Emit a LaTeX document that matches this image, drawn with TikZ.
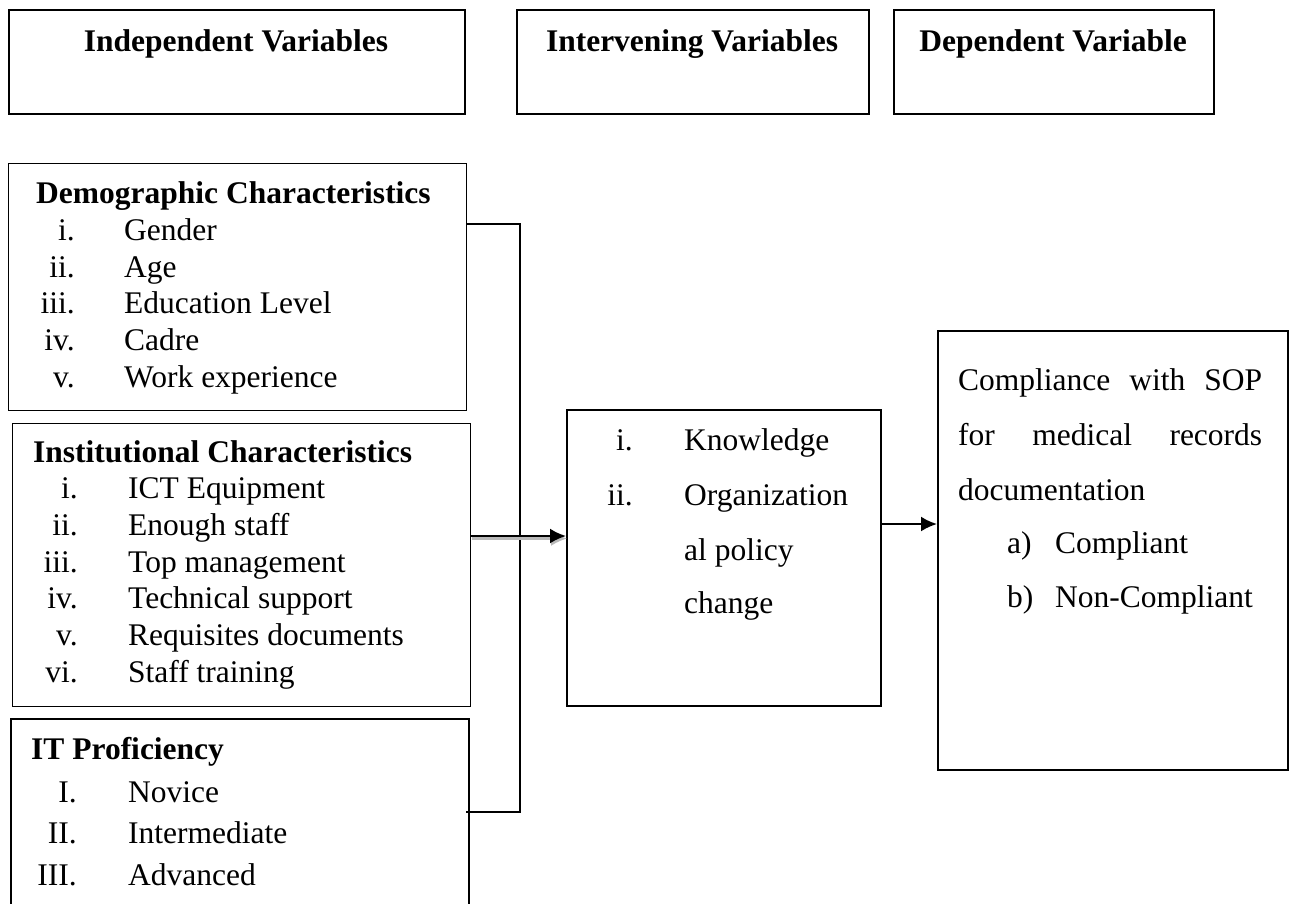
\documentclass[tikz,border=0pt]{standalone}
\usepackage{fontspec}
\setmainfont{Liberation Serif}
\usetikzlibrary{arrows.meta}
\begin{document}
\begin{tikzpicture}[x=1pt,y=-1pt,
  box/.style={draw=black,line width=#1,inner sep=0pt,anchor=north west},
  box/.default=1.3pt,
  hdr/.style={inner sep=0pt,anchor=base,font=\bfseries\fontsize{31.5}{37}\selectfont},
  ttl/.style={inner sep=0pt,anchor=base west,font=\bfseries\fontsize{31.5}{37}\selectfont},
  txt/.style={inner sep=0pt,anchor=base west,font=\fontsize{31.5}{37}\selectfont},
  num/.style={inner sep=0pt,anchor=base east,font=\fontsize{31.5}{37}\selectfont},
  conn/.style={line width=1.8pt},
  arr/.style={line width=2.2pt,-{Latex[length=16pt,width=15pt]}}
]
\useasboundingbox (0,0) rectangle (1291,903);

% header boxes
\node[box=2pt,minimum width=456pt,minimum height=104pt] (hind) at (8,9) {};
\node[box=2pt,minimum width=352pt,minimum height=104pt] (hint) at (516,9) {};
\node[box=2pt,minimum width=320pt,minimum height=104pt] (hdep) at (893,9) {};
\node[hdr] (thind) at (236,51) {Independent Variables};
\node[hdr] (thint) at (692,51) {Intervening Variables};
\node[hdr] (thdep) at (1053,51) {Dependent Variable};

% demographic
\node[box,minimum width=458pt,minimum height=247pt] (demo) at (8,163) {};
\node[ttl] (d0) at (36,203) {Demographic Characteristics};
\node[num] (dn1) at (75,240) {i.};   \node[txt] (dt1) at (124,240) {Gender};
\node[num] (dn2) at (75,277) {ii.};  \node[txt] (dt2) at (124,277) {Age};
\node[num] (dn3) at (75,313) {iii.}; \node[txt] (dt3) at (124,313) {Education Level};
\node[num] (dn4) at (75,350) {iv.};  \node[txt] (dt4) at (124,350) {Cadre};
\node[num] (dn5) at (75,387) {v.};   \node[txt] (dt5) at (124,387) {Work experience};

% institutional
\node[box,minimum width=458pt,minimum height=283pt] (inst) at (12,423) {};
\node[ttl] (i0) at (33,462) {Institutional Characteristics};
\node[num] (in1) at (78,498) {i.};   \node[txt] (it1) at (128,498) {ICT Equipment};
\node[num] (in2) at (78,535) {ii.};  \node[txt] (it2) at (128,535) {Enough staff};
\node[num] (in3) at (78,572) {iii.}; \node[txt] (it3) at (128,572) {Top management};
\node[num] (in4) at (78,608) {iv.};  \node[txt] (it4) at (128,608) {Technical support};
\node[num] (in5) at (78,645) {v.};   \node[txt] (it5) at (128,645) {Requisites documents};
\node[num] (in6) at (78,682) {vi.};  \node[txt] (it6) at (128,682) {Staff training};

% IT proficiency
\node[box=1.6pt,minimum width=458pt,minimum height=210pt] (itp) at (10,718) {};
\node[ttl] (p0) at (31,759) {IT Proficiency};
\node[num] (pn1) at (77,802) {I.};   \node[txt] (pt1) at (128,802) {Novice};
\node[num] (pn2) at (77,843) {II.};  \node[txt] (pt2) at (128,843) {Intermediate};
\node[num] (pn3) at (77,885) {III.}; \node[txt] (pt3) at (128,885) {Advanced};

% intervening box
\node[box=2pt,minimum width=314pt,minimum height=296pt] (mid) at (566,409) {};
\node[num] (mn1) at (633,450) {i.};  \node[txt] (mt1) at (684,450) {Knowledge};
\node[num] (mn2) at (633,505) {ii.}; \node[txt] (mt2) at (684,505) {Organization};
\node[txt] (mt3) at (684,560) {al policy};
\node[txt] (mt4) at (684,613) {change};

% dependent box
\node[box=2pt,minimum width=350pt,minimum height=439pt] (dep) at (937,330) {};
\node[txt] (r1) at (958,390) {\hbox to 304pt{Compliance\hfil with\hfil SOP}};
\node[txt] (r2) at (958,445) {\hbox to 304pt{for\hfil medical\hfil records}};
\node[txt] (r3) at (958,500) {documentation};
\node[txt] (ra) at (1007,553) {a)}; \node[txt] (rat) at (1055,553) {Compliant};
\node[txt] (rb) at (1007,607) {b)}; \node[txt] (rbt) at (1055,607) {Non-Compliant};

% connectors
\coordinate (j1) at (520,224);
\coordinate (j2) at (520,812);
\coordinate (a1) at (520,536);
\coordinate (a2) at (910,524);
\draw[conn] (demo.north east |- j1) -- (j1) -- (j2) -- ([xshift=-4pt]itp.north east |- j2);
\draw[line width=2.2pt,gray!55,transform canvas={shift={(1pt,-2.5pt)}},-{Latex[length=16pt,width=15pt]}] (inst.east |- a1) -- (mid.west |- a1);
\draw[arr] (inst.east |- a1) -- (mid.west |- a1);
\draw[arr] (mid.east |- a2) -- (dep.west |- a2);
\end{tikzpicture}
\end{document}
